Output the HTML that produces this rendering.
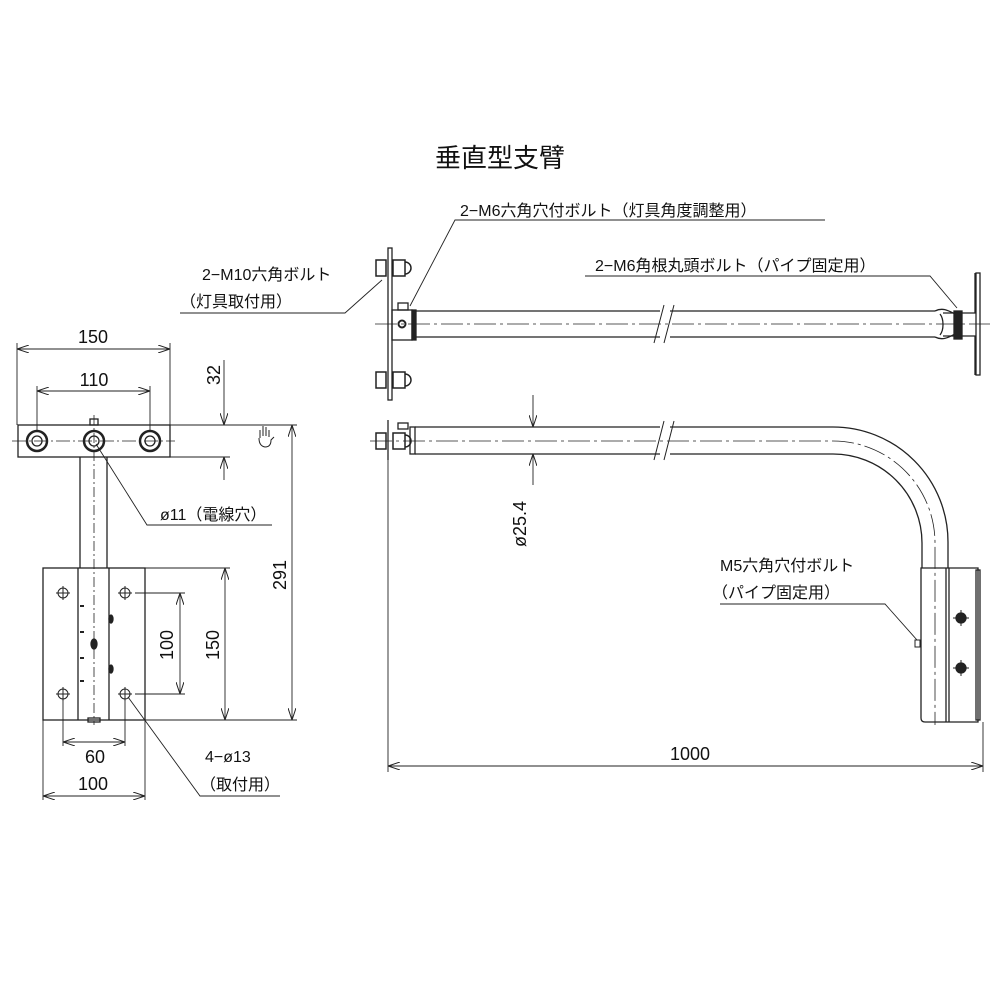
<!DOCTYPE html>
<html><head><meta charset="utf-8"><style>
html,body{margin:0;padding:0;background:#fff;}
svg{display:block}
text{font-family:"Liberation Sans","Noto Sans CJK JP",sans-serif;fill:#111;}
</style></head><body>
<svg width="1000" height="1000" viewBox="0 0 1000 1000" xmlns="http://www.w3.org/2000/svg">
<defs>
<marker id="a" viewBox="0 0 12 8" refX="12" refY="4" markerWidth="12" markerHeight="8" orient="auto-start-reverse" markerUnits="userSpaceOnUse"><path d="M0,0 L12,4 L0,8" fill="none" stroke="#222" stroke-width="1"/></marker>
</defs>
<g stroke="#222" stroke-width="1.3" fill="none">
<rect x="18" y="425" width="152" height="32"/>
<line x1="12" y1="441" x2="175" y2="441" stroke-dasharray="14,3,2,3" stroke-width="0.8"/>
<circle cx="37" cy="441" r="10" stroke-width="2.5"/><circle cx="37" cy="441" r="5"/>
<circle cx="94" cy="441" r="10" stroke-width="2.5"/><circle cx="94" cy="441" r="5"/>
<circle cx="150" cy="441" r="10" stroke-width="2.5"/><circle cx="150" cy="441" r="5"/>
<rect x="90" y="419" width="8" height="6"/>
<line x1="80" y1="457" x2="80" y2="568"/><line x1="107" y1="457" x2="107" y2="568"/>
<line x1="94" y1="415" x2="94" y2="725" stroke-dasharray="10,3,2,3" stroke-width="0.8"/>
<rect x="43" y="568" width="102" height="152"/>
<line x1="78" y1="568" x2="78" y2="720"/><line x1="109" y1="568" x2="109" y2="720"/>
<g stroke-width="1"><circle cx="63" cy="593" r="5"/><circle cx="125" cy="593" r="5"/><circle cx="63" cy="694" r="5"/><circle cx="125" cy="694" r="5"/>
<path d="M56 593h14M63 586v14M118 593h14M125 586v14M56 694h14M63 687v14M118 694h14M125 687v14"/></g>
<path d="M80 606h4M80 632h4M80 658h4M80 681h4" stroke-width="2"/>
<ellipse cx="94" cy="644" rx="3" ry="5" fill="#222"/>
<ellipse cx="111" cy="619" rx="2" ry="4" fill="#222"/><ellipse cx="111" cy="669" rx="2" ry="4" fill="#222"/>
<rect x="88" y="718" width="12" height="4"/>
<g stroke-width="0.9">
<line x1="17" y1="425" x2="17" y2="343"/><line x1="170" y1="425" x2="170" y2="343"/>
<line x1="17" y1="349" x2="170" y2="349" marker-start="url(#a)" marker-end="url(#a)"/>
<line x1="37" y1="431" x2="37" y2="386"/><line x1="150" y1="431" x2="150" y2="386"/>
<line x1="37" y1="391" x2="150" y2="391" marker-start="url(#a)" marker-end="url(#a)"/>
<line x1="170" y1="425" x2="297" y2="425"/><line x1="170" y1="457" x2="230" y2="457"/>
<line x1="224" y1="360" x2="224" y2="425" marker-end="url(#a)"/><line x1="224" y1="480" x2="224" y2="457" marker-end="url(#a)"/>
<line x1="145" y1="720" x2="297" y2="720"/><line x1="145" y1="568" x2="230" y2="568"/>
<line x1="292" y1="425" x2="292" y2="720" marker-start="url(#a)" marker-end="url(#a)"/>
<line x1="225" y1="568" x2="225" y2="720" marker-start="url(#a)" marker-end="url(#a)"/>
<line x1="135" y1="593" x2="185" y2="593"/><line x1="135" y1="694" x2="185" y2="694"/>
<line x1="180" y1="593" x2="180" y2="694" marker-start="url(#a)" marker-end="url(#a)"/>
<line x1="63" y1="700" x2="63" y2="746"/><line x1="125" y1="700" x2="125" y2="746"/>
<line x1="63" y1="742" x2="125" y2="742" marker-start="url(#a)" marker-end="url(#a)"/>
<line x1="43" y1="720" x2="43" y2="800"/><line x1="145" y1="720" x2="145" y2="800"/>
<line x1="43" y1="796" x2="145" y2="796" marker-start="url(#a)" marker-end="url(#a)"/>
<path d="M272 525H147L96 444"/>
<path d="M280 796H200L128 697"/>
</g>
<!-- hand -->
<path d="M260 438v-8M263 436v-10M266 436v-9M269 437v-7M259 438q0 8 6 9q6 0 6-7l3-3" stroke-width="1"/>
<rect x="388" y="248" width="4" height="152"/>
<g stroke-width="1.5">
<rect x="376" y="260" width="10" height="16"/><rect x="393" y="260" width="12" height="16"/><path d="M405 262a6 6 0 0 1 0 12"/>
<rect x="376" y="372" width="10" height="16"/><rect x="393" y="372" width="12" height="16"/><path d="M405 374a6 6 0 0 1 0 12"/>
</g>
<rect x="392" y="310" width="20" height="30"/><rect x="398" y="303" width="10" height="7"/>
<circle cx="402" cy="324" r="3.5" stroke-width="2"/>
<rect x="412" y="310" width="4" height="30" fill="#222"/>
<path d="M416 311H660M670 311H935M416 337H660M670 337H935"/>
<path d="M654 343L664 305M664 343L674 305" stroke-width="1"/>
<path d="M935 311c8-4 14 0 20 3M935 337c8 4 14 0 20-3M940 314c4 5 4 16 0 21"/>
<rect x="954" y="311" width="8" height="28" fill="#222"/>
<path d="M943 313H975V273M943 336H975V375"/><rect x="976" y="273" width="4" height="102"/>
<line x1="375" y1="324" x2="990" y2="324" stroke-dasharray="22,4,3,4" stroke-width="0.8"/>
<g stroke-width="1.5">
<rect x="376" y="433" width="10" height="16"/><rect x="393" y="433" width="12" height="16"/><path d="M405 435a6 6 0 0 1 0 12"/>
</g>
<line x1="388" y1="420" x2="388" y2="460"/>
<rect x="398" y="423" width="10" height="6"/><rect x="410" y="427" width="5" height="27"/>
<path d="M415 427H660M670 427H833A115 115 0 0 1 948 542V568M415 454H660M670 454H833A89 89 0 0 1 922 543V568"/>
<path d="M654 460L664 421M664 460L674 421" stroke-width="1"/>
<path d="M370 441H833A102 102 0 0 1 935 543V725" stroke-dasharray="22,4,3,4" stroke-width="0.8"/>
<path d="M921 568H978V722H925Q921 722 921 718Z"/>
<line x1="946" y1="568" x2="946" y2="722"/><line x1="949" y1="568" x2="949" y2="722"/>
<rect x="976" y="570" width="4" height="150"/>
<circle cx="961" cy="618" r="5" fill="#222"/><circle cx="961" cy="668" r="5" fill="#222"/>
<path d="M953 618h16M961 610v16M953 668h16M961 660v16" stroke-width="1"/>
<rect x="915" y="640" width="5" height="7" stroke-width="1"/>
<g stroke-width="0.9">
<line x1="533" y1="395" x2="533" y2="427" marker-end="url(#a)"/><line x1="533" y1="485" x2="533" y2="454" marker-end="url(#a)"/>
<line x1="388" y1="455" x2="388" y2="772"/><line x1="983" y1="722" x2="983" y2="772"/>
<line x1="388" y1="766" x2="983" y2="766" marker-start="url(#a)" marker-end="url(#a)"/>
<path d="M180 313H345L382 280"/>
<path d="M825 220H455L410 306"/>
<path d="M585 276H930L957 308"/>
<path d="M720 604H885L917 640"/>
</g>
</g>
<text x="500" y="167" font-size="26" text-anchor="middle">垂直型支臂</text>
<g font-size="18" text-anchor="middle">
<text x="93" y="343">150</text>
<text x="94" y="386">110</text>
<text x="95" y="763">60</text>
<text x="93" y="790">100</text>
<text x="690" y="760">1000</text>
<text transform="translate(220,375) rotate(-90)">32</text>
<text transform="translate(286,575) rotate(-90)">291</text>
<text transform="translate(219,645) rotate(-90)">150</text>
<text transform="translate(173,645) rotate(-90)">100</text>
<text transform="translate(526,524) rotate(-90)">ø25.4</text>
</g>
<g font-size="16">
<text x="160" y="520">ø11（電線穴）</text>
<text x="205" y="762">4−ø13</text>
<text x="200" y="790">（取付用）</text>
<text x="202" y="280">2−M10六角ボルト</text>
<text x="180" y="307">（灯具取付用）</text>
<text x="460" y="216">2−M6六角穴付ボルト（灯具角度調整用）</text>
<text x="595" y="271">2−M6角根丸頭ボルト（パイプ固定用）</text>
<text x="720" y="571">M5六角穴付ボルト</text>
<text x="712" y="598">（パイプ固定用）</text>
</g>
</svg>
</body></html>
